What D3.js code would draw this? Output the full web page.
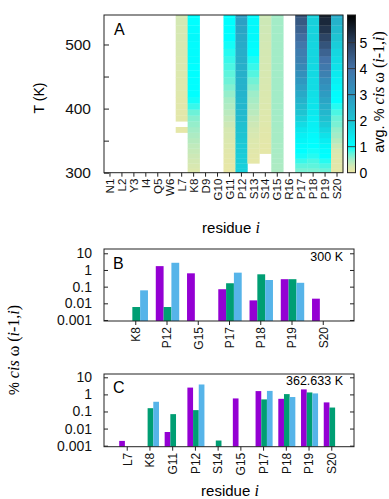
<!DOCTYPE html>
<html>
<head>
<meta charset="utf-8">
<script src="https://cdn.jsdelivr.net/npm/d3@7"></script>
<style>
  body { margin: 0; background: #fff; }
  svg { display: block; font-family: "Liberation Sans", Arial, sans-serif; }
  .frame { fill: none; stroke: #222; stroke-width: 1; }
  .axis path { display: none; }
  .axis line { stroke: #222; }
  .axis text { fill: #111; }
  .ser { font-family: "Liberation Serif", "DejaVu Serif", serif; font-size: 16px; }
  .it { font-style: italic; }
</style>
</head>
<body>
<div id="chart"></div>
<script>
// Panel A: residues and replica temperatures (row bottoms, K)
const residues = ["N1", "L2", "Y3", "I4", "Q5", "W6", "L7", "K8", "D9", "G10",
  "G11", "P12", "S13", "S14", "G15", "R16", "P17", "P18", "P19", "S20"];
const temperatures = [300, 307.2, 314.6, 322.1, 329.8, 337.8, 345.8, 354.1, 362.6, 371.3,
  380.2, 389.3, 398.7, 408.2, 418.0, 428.1, 438.3, 448.9, 459.6, 470.6,
  481.9, 493.5, 505.3, 517.4, 529.8, 542.5];
const tempTop = 546;

// avg. % cis per residue, one value per temperature row (bottom -> top), null = no data
const cisL7 = [null, null, null, null, null, null, null, null, 0.08, null,
  0.1, 0.1, 0.12, 0.12, 0.13, 0.14, 0.15, 0.16, 0.17, 0.18, 0.2, 0.2, 0.22, 0.22, 0.24, 0.25];
const cisK8 = [0.15, 0.2, 0.25, 0.28, 0.32, 0.35, 0.4, 0.45, 0.5, 0.55,
  0.6, 0.7, 0.85, 0.95, 1.0, 1.0, 1.0, 1.0, 1.0, 1.05, 1.05, 1.05, 1.1, 1.05, 1.0, 1.0];
const cisG11 = [0.05, 0.06, 0.08, 0.1, 0.12, 0.15, 0.17, 0.2, 0.22, 0.28,
  0.33, 0.38, 0.43, 0.48, 0.55, 0.62, 0.7, 0.75, 0.8, 0.85, 0.9, 0.95, 1.0, 1.0, 1.0, 1.0];
const cisP12 = [1.8, 1.8, 1.85, 1.85, 1.9, 1.9, 1.95, 2.0, 2.05, 2.1,
  2.2, 2.25, 2.3, 2.3, 2.35, 2.4, 2.4, 2.45, 2.45, 2.5, 2.5, 2.55, 2.6, 2.7, 2.8, 2.9];
const cisS13 = [null, null, 0.08, 0.1, 0.12, 0.14, 0.16, 0.2, 0.24, 0.28,
  0.32, 0.38, 0.42, 0.48, 0.52, 0.6, 0.68, 0.78, 0.85, 0.92, 1.0, 1.05, 1.1, 1.1, 1.1, 1.1];
const cisS14 = [null, null, null, null, 0.08, 0.09, 0.1, 0.11, 0.12, 0.13,
  0.14, 0.15, 0.16, 0.17, 0.18, 0.19, 0.2, 0.21, 0.22, 0.23, 0.24, 0.25, 0.26, 0.27, 0.28, 0.28];
const cisG15 = [0.45, 0.45, 0.46, 0.46, 0.47, 0.47, 0.48, 0.48, 0.48, 0.49,
  0.49, 0.5, 0.5, 0.5, 0.5, 0.5, 0.5, 0.5, 0.5, 0.5, 0.5, 0.5, 0.5, 0.5, 0.5, 0.5];
const cisP17 = [0.65, 0.75, 0.85, 0.95, 1.0, 1.05, 1.15, 1.25, 1.4, 1.6,
  1.8, 2.0, 2.2, 2.4, 2.6, 2.8, 3.0, 3.2, 3.4, 3.6, 3.7, 3.9, 4.1, 4.3, 4.5, 4.7];
const cisP18 = [0.65, 0.75, 0.8, 0.9, 0.95, 1.0, 1.05, 1.1, 1.2, 1.25,
  1.3, 1.4, 1.45, 1.5, 1.55, 1.6, 1.6, 1.65, 1.65, 1.7, 1.7, 1.7, 1.75, 1.75, 1.8, 1.8];
const cisP19 = [0.7, 0.8, 0.9, 1.0, 1.05, 1.15, 1.3, 1.5, 1.7, 1.9,
  2.1, 2.3, 2.5, 2.7, 2.9, 3.1, 3.3, 3.6, 3.8, 4.0, 4.3, 4.6, 4.9, 5.2, 5.4, 5.6];
const cisS20 = [0.08, 0.1, 0.12, 0.15, 0.2, 0.3, 0.4, 0.5, 0.55, 0.65,
  0.7, 0.8, 0.9, 1.0, 1.05, 1.15, 1.25, 1.35, 1.5, 1.6, 1.7, 1.85, 2.0, 2.2, 2.4, 2.6];

const heatColumns = {
  L7: cisL7, K8: cisK8, G11: cisG11, P12: cisP12, S13: cisS13, S14: cisS14,
  G15: cisG15, P17: cisP17, P18: cisP18, P19: cisP19, S20: cisS20
};

// Panels B and C: % cis per residue for three series (null = no bar)
const catsB = ["K8", "P12", "G15", "P17", "P18", "P19", "S20"];
const purpleB = [null, 1.7, 0.63, 0.07, 0.015, 0.28, 0.019];
const greenB = [0.006, 0.006, null, 0.16, 0.55, 0.28, null];
const blueB = [0.06, 2.7, null, 0.69, 0.25, 0.17, null];

const catsC = ["L7", "K8", "G11", "P12", "S14", "G15", "P17", "P18", "P19", "S20"];
const purpleC = [0.0019, null, 0.0063, 2.5, null, 0.58, 1.56, 0.55, 1.96, 0.34];
const greenC = [null, 0.156, 0.07, 0.12, 0.002, null, 0.51, 1.04, 1.3, 0.17];
const blueC = [null, 0.37, null, 3.8, null, null, 1.6, 0.7, 1.14, null];

const logTicks = [0.001, 0.01, 0.1, 1, 10];
const colorTicks = [0, 1, 2, 3, 4, 5];

// Layout
const width = 389, height = 499;
const heat = { left: 104, right: 343, top: 15, bottom: 172.7 };
const cbar = { left: 347.5, right: 355.5 };
const panelB = { left: 104, right: 354, top: 249, bottom: 321, min: 0.00087, max: 18.1 };
const panelC = { left: 104, right: 354, top: 374, bottom: 446.7, min: 0.00087, max: 15.6 };
const seriesColors = ["#9400d3", "#009e73", "#56b4e9"];

const svg = d3.select("#chart").append("svg")
  .attr("width", width)
  .attr("height", height);

// Colour map (avg. % cis)
const colorStops = [0, 0.25, 0.5, 0.75, 1, 2, 3, 4, 5, 6.06];
const colorVals = ["#ede7a3", "#d3e8b4", "#a3ecc7", "#5ff4dc", "#00ffff",
  "#1ec4d2", "#2f97c0", "#4472a7", "#2a405e", "#000000"];
const color = d3.scaleLinear().domain(colorStops).range(colorVals).clamp(true);

// "% cis ω (i-1,i)" with serif / italic parts
function cisLabel(sel, prefix) {
  sel.append("tspan").text(prefix);
  sel.append("tspan").attr("class", "ser it").text("cis");
  sel.append("tspan").attr("class", "ser").text(" ω (");
  sel.append("tspan").attr("class", "ser it").text("i");
  sel.append("tspan").attr("class", "ser").text("-1,");
  sel.append("tspan").attr("class", "ser it").text("i");
  sel.append("tspan").attr("class", "ser").text(")");
}

function drawHeatmap() {
  const x = d3.scaleBand().domain(residues).range([heat.left, heat.right]);
  const y = d3.scaleLinear().domain([300, tempTop]).range([heat.bottom, heat.top]);

  const g = svg.append("g");
  Object.keys(heatColumns).forEach((res) => {
    heatColumns[res].forEach((v, k) => {
      if (v === null) return;
      const t0 = temperatures[k];
      const t1 = k + 1 < temperatures.length ? temperatures[k + 1] : tempTop;
      g.append("rect")
        .attr("x", x(res))
        .attr("y", y(t1))
        .attr("width", x.bandwidth() + 0.3)
        .attr("height", y(t0) - y(t1) + 0.3)
        .attr("fill", color(v));
    });
  });

  // Y axis
  svg.append("g")
    .attr("class", "axis")
    .attr("transform", `translate(${heat.left},0)`)
    .call(d3.axisLeft(y).tickValues([300, 350, 400, 450, 500])
      .tickSize(-5).tickPadding(13)
      .tickFormat((d) => (d % 100 === 0 ? d : "")))
    .selectAll("text").style("font-size", "15.5px");

  // X axis
  const xa = svg.append("g")
    .attr("class", "axis")
    .attr("transform", `translate(0,${heat.bottom})`)
    .call(d3.axisBottom(x).tickSize(4));
  xa.selectAll("text")
    .style("font-size", "11.5px")
    .attr("transform", "rotate(-90)")
    .attr("x", -6)
    .attr("y", 0)
    .attr("dy", "0.36em")
    .attr("text-anchor", "end");

  svg.append("rect").attr("class", "frame")
    .attr("x", heat.left).attr("y", heat.top)
    .attr("width", heat.right - heat.left).attr("height", heat.bottom - heat.top);

  svg.append("text")
    .attr("x", 114).attr("y", 35)
    .style("font-size", "16px")
    .text("A");

  svg.append("text")
    .attr("transform", `translate(44,98)rotate(-90)`)
    .attr("text-anchor", "middle")
    .style("font-size", "14px")
    .text("T (K)");

  const rl = svg.append("text")
    .attr("x", 231).attr("y", 233)
    .attr("text-anchor", "middle")
    .style("font-size", "15px");
  rl.append("tspan").text("residue ");
  rl.append("tspan").attr("class", "ser it").text("i");
}

function drawColorbar() {
  const cy = d3.scaleLinear().domain([0, 6.06]).range([heat.bottom, heat.top]);
  const grad = svg.append("defs").append("linearGradient")
    .attr("id", "cbgrad")
    .attr("x1", 0).attr("y1", 1).attr("x2", 0).attr("y2", 0);
  colorStops.forEach((s, i) => {
    grad.append("stop")
      .attr("offset", s / 6.06)
      .attr("stop-color", colorVals[i]);
  });
  svg.append("rect")
    .attr("x", cbar.left).attr("y", heat.top)
    .attr("width", cbar.right - cbar.left).attr("height", heat.bottom - heat.top)
    .attr("fill", "url(#cbgrad)");

  svg.append("g").selectAll("line")
    .data(colorTicks.slice(1))
    .join("line")
    .attr("x1", cbar.left).attr("x2", cbar.right)
    .attr("y1", (d) => cy(d)).attr("y2", (d) => cy(d))
    .attr("stroke", "#333").attr("stroke-width", 0.9);

  svg.append("rect").attr("class", "frame")
    .attr("x", cbar.left).attr("y", heat.top)
    .attr("width", cbar.right - cbar.left).attr("height", heat.bottom - heat.top);

  svg.append("g").selectAll("text")
    .data(colorTicks)
    .join("text")
    .attr("x", cbar.right + 4)
    .attr("y", (d) => cy(d))
    .attr("dy", "0.36em")
    .style("font-size", "14px")
    .text((d) => d);

  const lab = svg.append("text")
    .attr("transform", `translate(384,92)rotate(-90)`)
    .attr("text-anchor", "middle")
    .style("font-size", "14.5px");
  cisLabel(lab, "avg. % ");
}

function drawBars(p, cats, series, letter, tempLabel, letterY, tempY) {
  const x = d3.scalePoint().domain(cats).range([p.left, p.right]).padding(1);
  const y = d3.scaleLog().domain([p.min, p.max]).range([p.bottom, p.top]);
  const bw = x.step() * 0.25;

  series.forEach((vals, si) => {
    svg.append("g").selectAll("rect")
      .data(cats.map((c, i) => ({ c, v: vals[i] })).filter((d) => d.v !== null))
      .join("rect")
      .attr("x", (d) => x(d.c) + (si - 1.5) * bw + 1)
      .attr("y", (d) => y(d.v))
      .attr("width", bw)
      .attr("height", (d) => p.bottom - y(d.v))
      .attr("fill", seriesColors[si]);
  });

  // Log axes, ticks inside on both sides
  svg.append("g")
    .attr("class", "axis")
    .attr("transform", `translate(${p.left},0)`)
    .call(d3.axisLeft(y).tickValues(logTicks).tickSize(-4).tickPadding(12)
      .tickFormat((d) => d))
    .selectAll("text").style("font-size", "14px");
  svg.append("g")
    .attr("class", "axis")
    .attr("transform", `translate(${p.right},0)`)
    .call(d3.axisRight(y).tickValues(logTicks).tickSize(-4).tickFormat(""));

  const xa = svg.append("g")
    .attr("class", "axis")
    .attr("transform", `translate(0,${p.bottom})`)
    .call(d3.axisBottom(x).tickSize(4));
  xa.selectAll("text")
    .style("font-size", "12px")
    .attr("transform", "rotate(-90)")
    .attr("x", -6)
    .attr("y", 0)
    .attr("dy", "0.36em")
    .attr("text-anchor", "end");

  svg.append("rect").attr("class", "frame")
    .attr("x", p.left).attr("y", p.top)
    .attr("width", p.right - p.left).attr("height", p.bottom - p.top);

  svg.append("text")
    .attr("x", 113).attr("y", letterY)
    .style("font-size", "16px")
    .text(letter);

  svg.append("text")
    .attr("x", 343).attr("y", tempY)
    .attr("text-anchor", "end")
    .style("font-size", "12.5px")
    .text(tempLabel);
}

drawHeatmap();
drawColorbar();
drawBars(panelB, catsB, [purpleB, greenB, blueB], "B", "300 K", 268.5, 260.5);
drawBars(panelC, catsC, [purpleC, greenC, blueC], "C", "362.633 K", 392.5, 385);

// Shared y label of panels B and C
const yl = svg.append("text")
  .attr("transform", `translate(19,350)rotate(-90)`)
  .attr("text-anchor", "middle")
  .style("font-size", "14.5px");
cisLabel(yl, "% ");

const bl = svg.append("text")
  .attr("x", 230).attr("y", 496)
  .attr("text-anchor", "middle")
  .style("font-size", "15px");
bl.append("tspan").text("residue ");
bl.append("tspan").attr("class", "ser it").text("i");
</script>
</body>
</html>
